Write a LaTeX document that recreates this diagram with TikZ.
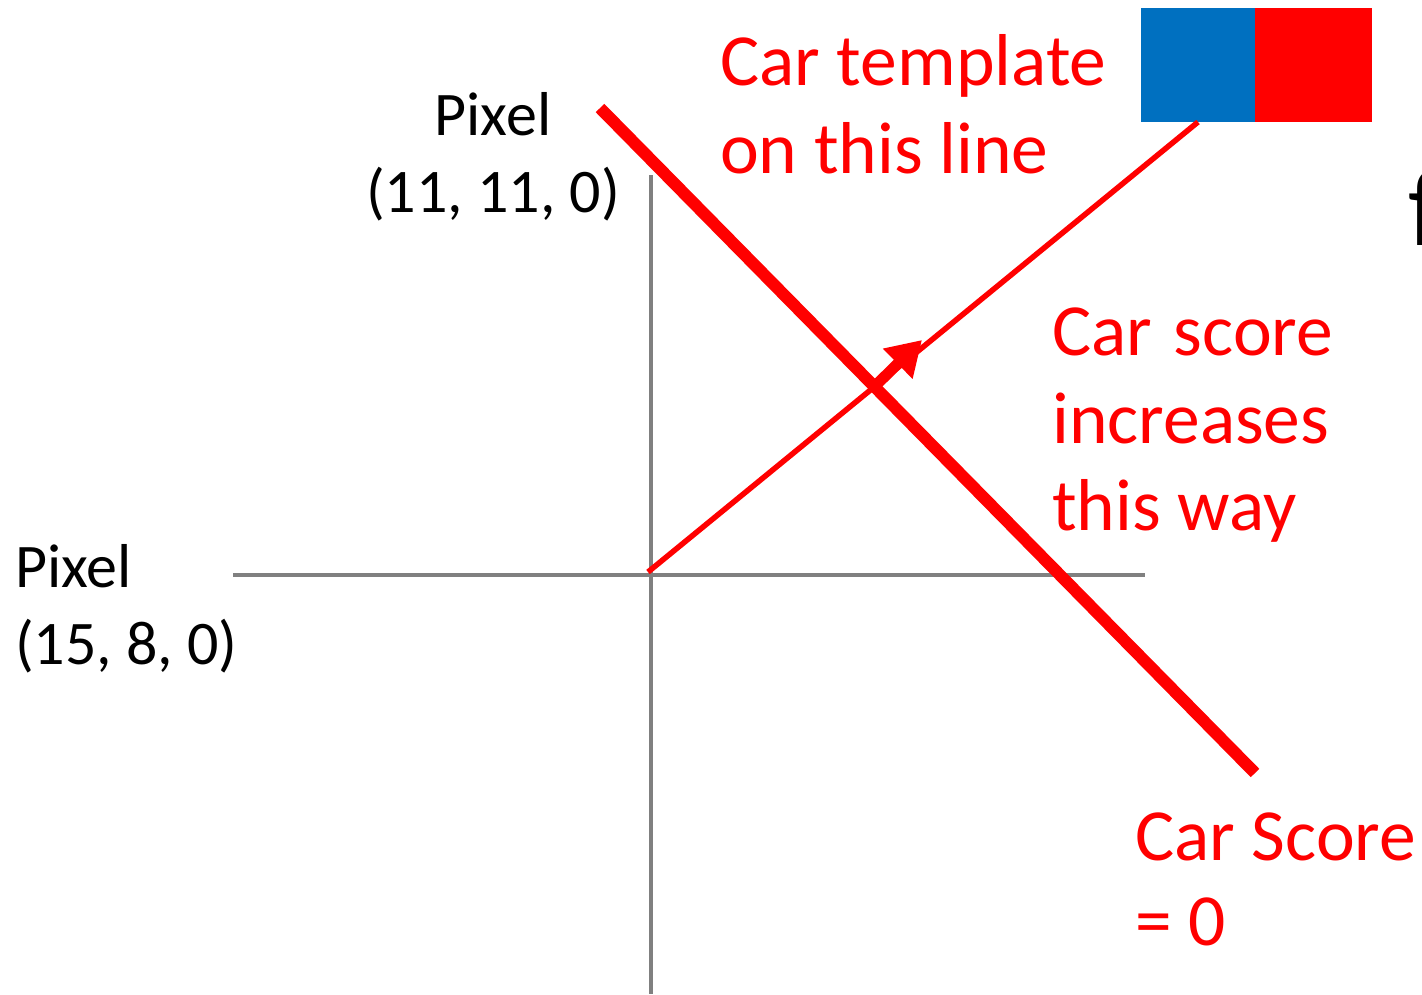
\documentclass[tikz,border=0pt]{standalone}
\usepackage{fontspec}
\setmainfont{Carlito}
\usetikzlibrary{arrows.meta}
\definecolor{axisgray}{RGB}{128,128,128}
\definecolor{tblue}{RGB}{0,112,192}
\definecolor{tred}{RGB}{255,0,0}
\begin{document}
\begin{tikzpicture}[x=1pt,y=-1pt,
  redtxt/.style={inner sep=0pt,anchor=base west,text=tred,font=\fontsize{73.5}{88}\selectfont},
  blktxt/.style={inner sep=0pt,text=black,font=\fontsize{62}{76}\selectfont},
  axis/.style={draw=axisgray,line width=4pt},
  redline/.style={draw=tred,line width=12pt},
  thinred/.style={draw=tred,line width=5.5pt}]
\useasboundingbox (0,0) rectangle (1422,994);
\clip (0,0) rectangle (1422,994);
% axes
\coordinate (vtop) at (651,175);
\coordinate (vbot) at (651,994);
\coordinate (hl) at (233,575);
\coordinate (hr) at (1145,575);
\draw[axis] (vtop) -- (vbot);
\draw[axis] (hl) -- (hr);
% template box
\node[fill=tblue,inner sep=0pt,minimum width=114pt,minimum height=114pt,anchor=north west] (bluebox) at (1141,8) {};
\node[fill=tred,inner sep=0pt,minimum width=117pt,minimum height=114pt,anchor=north west] (redbox) at (1255,8) {};
% thin line towards template
\coordinate (orig) at (648,572);
\coordinate (tend) at (1198,122);
\draw[thinred] (orig) -- (tend);
% arrow
\coordinate (ashaft) at (873,388);
\coordinate (atip) at (922,340);
\draw[tred,line width=11pt,-{Triangle[length=34pt,width=40pt]}] (ashaft) -- (atip);
% zero-score line
\coordinate (za) at (600,108);
\coordinate (zb) at (1255,773);
\draw[redline] (za) -- (zb);
% labels
\node[blktxt,anchor=base] (p1a) at (493,135) {Pixel};
\node[blktxt,anchor=base] (p1b) at (493,212) {(11, 11, 0)};
\node[blktxt,anchor=base west] (p2a) at (15,587) {Pixel};
\node[blktxt,anchor=base west] (p2b) at (15,664) {(15, 8, 0)};
\node[redtxt] (ct1) at (720,85) {Car template};
\node[redtxt] (ct2) at (720,173) {on this line};
\node[redtxt] (cs1) at (1052,355) {Car\hspace{5pt} score};
\node[redtxt] (cs2) at (1052,443) {increases};
\node[redtxt] (cs3) at (1052,530) {this way};
\node[redtxt] (cz1) at (1135,860) {Car Score};
\node[redtxt] (cz2) at (1135,945) {= 0};
\node[inner sep=0pt,anchor=base west,font=\fontsize{110}{120}\selectfont] (fx) at (1408,245) {f};
\end{tikzpicture}
\end{document}
